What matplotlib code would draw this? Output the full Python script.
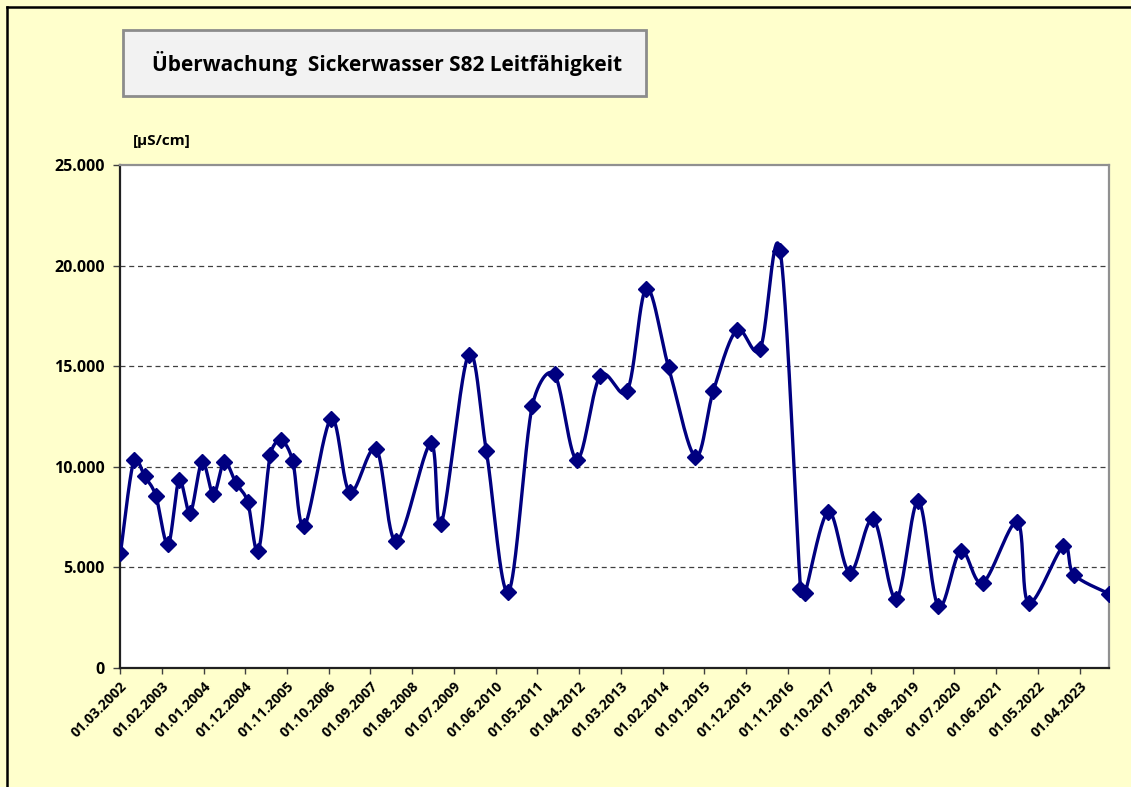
import numpy as np
import matplotlib
matplotlib.use("Agg")
import matplotlib.pyplot as plt
import matplotlib.dates as mdates
from matplotlib.patches import Rectangle
import datetime as dt

plt.rcParams['font.family'] = ['Open Sans', 'DejaVu Sans']

# ---- data ----
dates = ['2002-03-05', '2002-06-20', '2002-09-15', '2002-12-13', '2003-03-22', '2003-06-18',
         '2003-09-15', '2003-12-20', '2004-03-20', '2004-06-14', '2004-09-16', '2004-12-19',
         '2005-03-15', '2005-06-19', '2005-09-13', '2005-12-16', '2006-03-20', '2006-10-20',
         '2007-03-19', '2007-10-17', '2008-03-26', '2008-12-27', '2009-03-22', '2009-10-27',
         '2010-03-19', '2010-09-12', '2011-03-22', '2011-09-17', '2012-03-15', '2012-09-18',
         '2013-04-23', '2013-09-23', '2014-03-21', '2014-10-21', '2015-03-15', '2015-09-18',
         '2016-03-24', '2016-09-01', '2017-02-11', '2017-03-20', '2017-09-22', '2018-03-14',
         '2018-09-18', '2019-03-22', '2019-09-14', '2020-02-22', '2020-08-20', '2021-02-13',
         '2021-11-17', '2022-02-16', '2022-11-22', '2023-02-15', '2023-11-21']
values = [5720, 10320, 9530, 8570, 6140, 9330,
          7720, 10250, 8640, 10250, 9200, 8270,
          5820, 10590, 11330, 10290, 7060, 12390,
          8740, 10880, 6290, 11160, 7180, 15580,
          10790, 3780, 13010, 14590, 10360, 14520,
          13780, 18860, 14940, 10510, 13780, 16790,
          15850, 20740, 3950, 3750, 7770, 4740,
          7400, 3430, 8300, 3060, 5830, 4240,
          7260, 3230, 6050, 4640, 3700]
tick_labels = ['01.03.2002', '01.02.2003', '01.01.2004', '01.12.2004', '01.11.2005', '01.10.2006',
               '01.09.2007', '01.08.2008', '01.07.2009', '01.06.2010', '01.05.2011', '01.04.2012',
               '01.03.2013', '01.02.2014', '01.01.2015', '01.12.2015', '01.11.2016', '01.10.2017',
               '01.09.2018', '01.08.2019', '01.07.2020', '01.06.2021', '01.05.2022', '01.04.2023']
y_ticks = [0, 5000, 10000, 15000, 20000, 25000]
title = 'Überwachung  Sickerwasser S82 Leitfähigkeit'
unit = '[µS/cm]'

# ---- figure ----
W, H = 1131, 787
bg = '#FFFFCC'
fig = plt.figure(figsize=(W / 100, H / 100), dpi=100, facecolor=bg)

ax_l, ax_r, ax_t, ax_b = 120, 1109, 165, 668
ax = fig.add_axes([ax_l / W, 1 - ax_b / H, (ax_r - ax_l) / W, (ax_b - ax_t) / H])
ax.set_facecolor('white')

x = mdates.date2num([dt.datetime.strptime(d, '%Y-%m-%d') for d in dates])
y = np.array(values, dtype=float)

xmin, xmax = x[0] - 3, x[-1] + 2
ymin, ymax = 0, 25000
ax.set_xlim(xmin, xmax)
ax.set_ylim(ymin, ymax)

# Excel-like smoothing done in (approximate) screen space, with tangent capping
sx = (ax_r - ax_l) / (xmax - xmin)
sy = (ax_b - ax_t) / (ymax - ymin)
P = np.column_stack([(x - xmin) * sx, (y - ymin) * sy])
Pe = np.vstack([P[0], P, P[-1]])
curve = []
tt = np.linspace(0, 1, 40)
for i in range(len(P) - 1):
    p0, p1, p2, p3 = Pe[i], Pe[i + 1], Pe[i + 2], Pe[i + 3]
    seg = np.hypot(*(p2 - p1))
    t1 = (p2 - p0) / 6.0
    t2 = (p3 - p1) / 6.0
    for t in (t1, t2):
        n = np.hypot(*t)
        if n > 0.5 * seg and n > 0:
            t *= 0.5 * seg / n
    c1 = p1 + t1
    c2 = p2 - t2
    b = ((1 - tt) ** 3)[:, None] * p1 + (3 * (1 - tt) ** 2 * tt)[:, None] * c1 \
        + (3 * (1 - tt) * tt ** 2)[:, None] * c2 + (tt ** 3)[:, None] * p2
    curve.append(b if i == 0 else b[1:])
curve = np.vstack(curve)
cx = curve[:, 0] / sx + xmin
cy = curve[:, 1] / sy + ymin

ax.plot(cx, cy, color='#000080', lw=2.4, solid_joinstyle='round', zorder=3)
ax.plot(x, y, linestyle='none', marker='D', markersize=8.5, color='#000080', zorder=4)

# grid
for v in y_ticks[1:-1]:
    ax.axhline(v, color='#404040', lw=0.9, ls=(0, (4, 3)), zorder=1)

# ticks
ticks = mdates.date2num([dt.datetime.strptime(t, '%d.%m.%Y') for t in tick_labels])
ax.set_xticks(ticks)
ax.set_xticklabels(tick_labels, rotation=45, ha='right', va='top', rotation_mode='anchor',
                   fontsize=10.2, fontweight='bold')
ax.set_yticks(y_ticks)
ax.set_yticklabels([f'{v:,}'.replace(',', '.') for v in y_ticks], fontsize=11.5, fontweight='bold')
ax.tick_params(axis='x', direction='out', length=4, width=1, pad=4, color='#404040')
ax.tick_params(axis='y', direction='out', length=5, width=1, pad=6, color='#404040')

for s in ['left', 'bottom']:
    ax.spines[s].set_color('#202020')
    ax.spines[s].set_linewidth(1.6)
for s in ['right', 'top']:
    ax.spines[s].set_color('#909090')
    ax.spines[s].set_linewidth(1.6)

# unit label
fig.text(162 / W, 1 - 141 / H, unit, ha='center', va='center', fontsize=11, fontweight='bold')

# title box
fig.patches.append(Rectangle((123 / W, 1 - 96 / H), (646 - 123) / W, (96 - 30) / H,
                             transform=fig.transFigure, facecolor='#F2F2F2',
                             edgecolor='#8C8C8C', lw=2))
fig.text(387 / W, 1 - 64 / H, title, ha='center', va='center', fontsize=15, fontweight='bold')

# outer border (left & top visible)
fig.add_artist(plt.Line2D([6.5 / W, 6.5 / W], [0, 1 - 6.5 / H], transform=fig.transFigure,
                          color='black', lw=1.8))
fig.add_artist(plt.Line2D([6.5 / W, 1], [1 - 6.5 / H, 1 - 6.5 / H], transform=fig.transFigure,
                          color='black', lw=1.8))

fig.savefig('out.png', dpi=100, facecolor=bg)
